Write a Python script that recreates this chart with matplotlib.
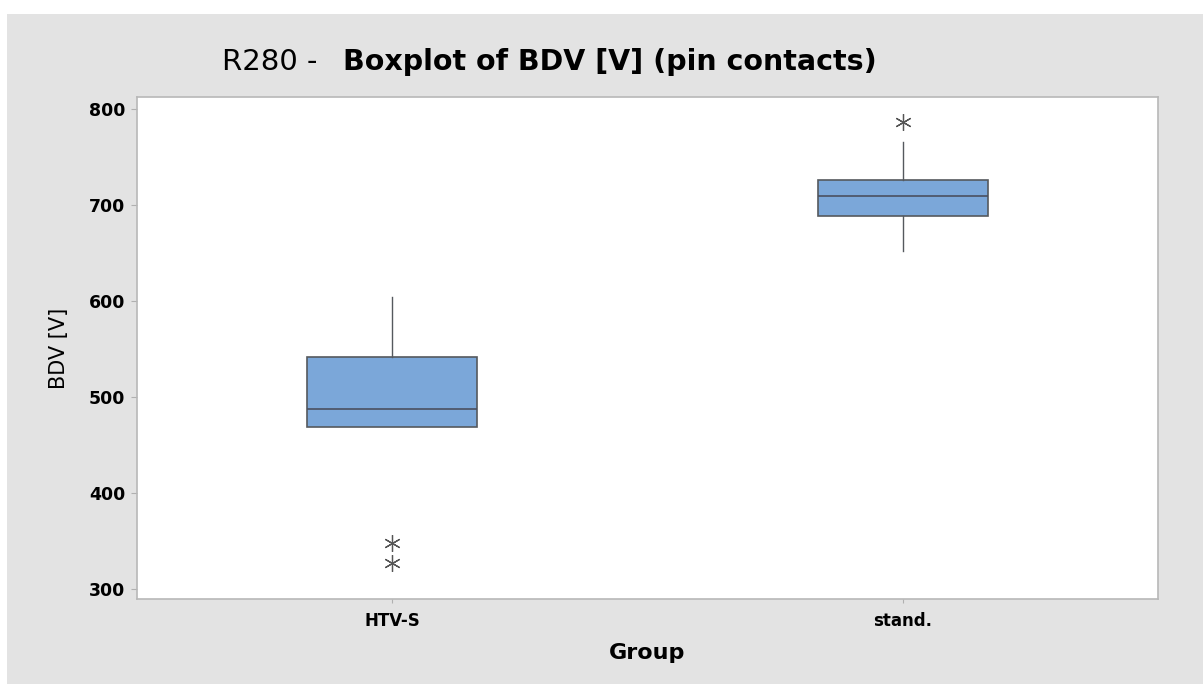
import matplotlib
matplotlib.use("Agg")
import matplotlib.pyplot as plt
from matplotlib.patches import Rectangle

# summary statistics of breakdown voltage per group
groups = ["HTV-S", "stand."]
q1 = [469, 688.5]
medians = [487.5, 709.5]
q3 = [541.5, 726]
whisker_low = [469, 652]
whisker_high = [604, 765.5]
outliers = [[348, 327], [786.5]]

plt.rcParams["font.family"] = ["DejaVu Sans"]

fig = plt.figure(figsize=(12.03, 6.84), dpi=100, facecolor="white")
# grey panel behind the plot
fig.patches.append(Rectangle((7 / 1203, 0), 1, (684 - 14) / 684,
                             transform=fig.transFigure, facecolor="#e3e3e3",
                             edgecolor="none", zorder=-10))

ax = fig.add_axes([137 / 1203, 85 / 684, 1021 / 1203, 502 / 684])
ax.set_facecolor("white")

stats = []
for i, g in enumerate(groups):
    stats.append({"label": g, "q1": q1[i], "med": medians[i], "q3": q3[i],
                  "whislo": whisker_low[i], "whishi": whisker_high[i],
                  "fliers": outliers[i]})

ax.bxp(stats, positions=[0, 1], widths=0.333, patch_artist=True, showcaps=False,
       boxprops=dict(facecolor="#7ba7d9", edgecolor="#55595e", linewidth=1.2),
       medianprops=dict(color="#4a5060", linewidth=1.2),
       whiskerprops=dict(color="#55595e", linewidth=1.0),
       flierprops=dict(marker=(6, 2, 0), markersize=12, markeredgecolor="#555555",
                       markerfacecolor="none", markeredgewidth=0.9))

ax.set_xlim(-0.5, 1.5)
ax.set_ylim(289.6, 812.5)
ax.set_yticks([300, 400, 500, 600, 700, 800])
ax.set_xticks([0, 1])
ax.set_xticklabels(groups)

for s in ax.spines.values():
    s.set_color("#b8b8b8")
    s.set_linewidth(1.2)
ax.tick_params(axis="y", length=4.5, color="#b0b0b0", labelsize=12.5, pad=4)
ax.tick_params(axis="x", length=3, color="#b0b0b0", labelsize=12, pad=6)
for lbl in ax.get_yticklabels() + ax.get_xticklabels():
    lbl.set_fontweight("bold")

ax.set_ylabel("BDV [V]", fontsize=15, labelpad=14)
ax.set_xlabel("Group", fontsize=16, fontweight="bold", labelpad=10)

fig.text(222 / 1203, 1 - 62 / 684, "R280 -", fontsize=21, va="center", ha="left")
fig.text(343 / 1203, 1 - 62 / 684, "Boxplot of BDV [V] (pin contacts)", fontsize=20.5,
         fontweight="bold", va="center", ha="left")

fig.savefig("out.png", dpi=100, facecolor=fig.get_facecolor())
